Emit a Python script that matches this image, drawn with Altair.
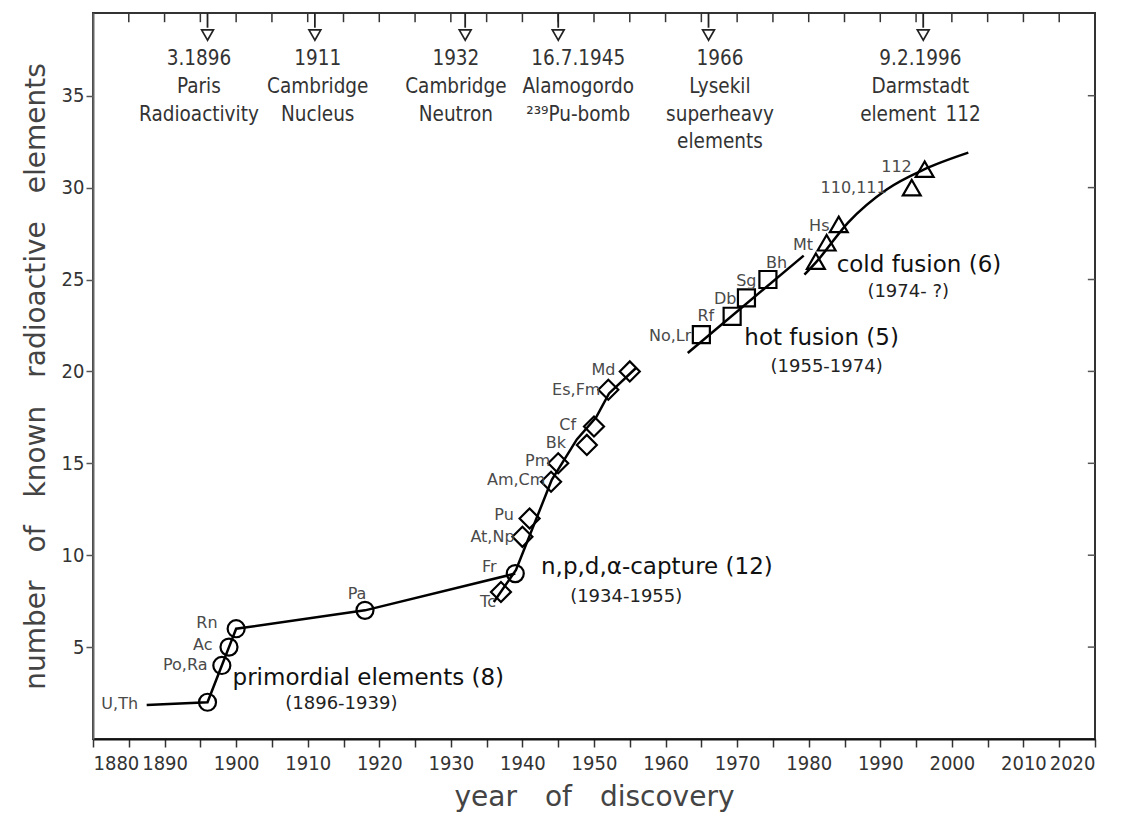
import altair as alt
import pandas as pd

# ---------------- data ----------------
# discovered elements (markers)
circ_year = [1896, 1898, 1899, 1900, 1918, 1939]
circ_n = [2, 4, 5, 6, 7, 9]
diam_year = [1937, 1940, 1941, 1944, 1945, 1949, 1950, 1952, 1955]
diam_n = [8, 11, 12, 14, 15, 16, 17, 19, 20]
sq_year = [1965, 1969.3, 1971.3, 1974.3]
sq_n = [22, 23, 24, 25]
tri_year = [1981, 1982.5, 1984.2, 1994.4, 1996.2]
tri_n = [26, 27, 28, 30, 31]

# trend curves
prim_year = [1887.5, 1896, 1898, 1899, 1900, 1918, 1939]
prim_n = [1.85, 2, 4, 5, 6, 7, 9]
capt_year = [1936.0, 1939.1, 1944.1, 1947.6, 1950.3, 1952.1, 1955.9]
capt_n = [7.45, 9.2, 14.1, 16.3, 17.5, 18.8, 20.2]
hot_year = [1963.1, 1979.3]
hot_n = [21.0, 26.3]
cold_year = [1979.4, 1981.1, 1985.5, 1990.9, 1996.2, 2002.3]
cold_n = [25.26, 25.97, 28.1, 29.9, 31.0, 31.9]

# element labels (right aligned)
lab_text = ["U,Th", "Po,Ra", "Ac", "Rn", "Pa", "Fr", "Tc", "At,Np", "Pu", "Am,Cm",
            "Pm", "Bk", "Cf", "Es,Fm", "Md", "No,Lr", "Rf", "Db", "Sg", "Bh",
            "Mt", "Hs", "110,111", "112"]
lab_year = [1886.3, 1896.0, 1896.7, 1897.4, 1918.2, 1936.4, 1936.3, 1938.9, 1938.8, 1943.2,
            1943.9, 1946.1, 1947.5, 1950.9, 1953.0, 1963.6, 1966.8, 1969.9, 1972.7, 1977.0,
            1980.6, 1982.9, 1990.9, 1994.4]
lab_n = [1.9, 4.0, 5.1, 6.3, 7.9, 9.35, 7.45, 11.0, 12.2, 14.1,
         15.1, 16.1, 17.1, 19.0, 20.1, 21.9, 23.0, 23.95, 24.9, 25.9,
         26.9, 27.9, 30.0, 31.1]

# group labels
grp_text = ["primordial elements (8)", "n,p,d,\u03b1-capture (12)", "hot fusion (5)", "cold fusion (6)"]
grp_year = [1899.5, 1942.6, 1971.0, 1983.9]
grp_n = [3.3, 9.35, 21.8, 25.8]
sub_text = ["(1896-1939)", "(1934-1955)", "(1955-1974)", "(1974-  ?)"]
sub_year = [1914.7, 1954.5, 1982.5, 1993.9]
sub_n = [1.9, 7.7, 20.25, 24.3]

# historical events at the top (arrow year, centre year of the text block)
ev_year = [1896, 1911, 1932, 1945, 1966, 1996]
ev_text_year = [1894.8, 1911.4, 1930.7, 1947.8, 1967.6, 1995.6]
ev_lines = [["3.1896", "Paris", "Radioactivity"],
            ["1911", "Cambridge", "Nucleus"],
            ["1932", "Cambridge", "Neutron"],
            ["16.7.1945", "Alamogordo", "\u00b2\u00b3\u2079Pu-bomb"],
            ["1966", "Lysekil", "superheavy", "elements"],
            ["9.2.1996", "Darmstadt", "element\u2002112"]]
line_n = [37.0, 35.47, 33.95, 32.48]

x_ticks = list(range(1880, 2021, 5))
y_ticks = [5, 10, 15, 20, 25, 30, 35]

# ---------------- chart ----------------
COND = "DejaVu Sans Condensed"
REG = "DejaVu Sans"
XD = [1880, 2020]
YD = [0, 39.5]
SP = "\u2003"

xs = alt.Scale(domain=XD, nice=False, zero=False)
ys = alt.Scale(domain=YD, nice=False, zero=False)

x_axis = alt.Axis(
    values=x_ticks, format="d",
    labelExpr="datum.value % 10 == 0 ? datum.label : ''",
    tickSize=8, tickWidth=1.5, tickColor="#333",
    labelFontSize=20, labelFont=COND, labelColor="#333", labelPadding=6,
    domainColor="#111", domainWidth=2, grid=False,
    title=SP.join(["year", "of", "discovery"]), titleFont=REG, titleFontSize=28,
    titleFontWeight="normal", titleColor="#444", titlePadding=10)
y_axis = alt.Axis(
    values=y_ticks, tickSize=7, tickWidth=1.5, tickColor="#555",
    labelFontSize=20, labelFont=COND, labelColor="#333", labelPadding=2,
    domainColor="#666", domainWidth=2, grid=False,
    title=SP.join(["number", "of", "known", "radioactive", "elements"]), titleFont=REG,
    titleFontSize=28, titleFontWeight="normal", titleColor="#444", titlePadding=11)


def X(field="year"):
    return alt.X(f"{field}:Q", scale=xs, axis=x_axis)


def Y(field="n"):
    return alt.Y(f"{field}:Q", scale=ys, axis=y_axis)


# inward ticks on top and right borders
top_df = pd.DataFrame({"year": x_ticks[1:-1], "n": [YD[1]] * (len(x_ticks) - 2),
                       "n2": [YD[1] - 0.5] * (len(x_ticks) - 2)})
top_ticks = alt.Chart(top_df).mark_rule(color="#333", strokeWidth=1.5).encode(
    x=X(), y=Y(), y2="n2:Q")
right_df = pd.DataFrame({"n": y_ticks, "year": [XD[1]] * len(y_ticks),
                         "year2": [XD[1] - 1.0] * len(y_ticks)})
right_ticks = alt.Chart(right_df).mark_rule(color="#555", strokeWidth=1.5).encode(
    y=Y(), x=X(), x2="year2:Q")


def curve(xv, yv, interp):
    df = pd.DataFrame({"year": xv, "n": yv, "o": list(range(len(xv)))})
    return alt.Chart(df).mark_line(color="black", strokeWidth=2.5, interpolate=interp).encode(
        x=X(), y=Y(), order="o:Q")


lines = [curve(prim_year, prim_n, "linear"),
         curve(capt_year, capt_n, "linear"),
         curve(hot_year, hot_n, "linear"),
         curve(cold_year, cold_n, "monotone")]


def markers(xv, yv, shape, size):
    df = pd.DataFrame({"year": xv, "n": yv})
    return alt.Chart(df).mark_point(shape=shape, size=size, filled=False, color="black",
                                    strokeWidth=2.2, opacity=1).encode(x=X(), y=Y())


pts = [markers(circ_year, circ_n, "circle", 290),
       markers(diam_year, diam_n, "diamond", 400),
       markers(sq_year, sq_n, "square", 290),
       markers(tri_year, tri_n, "triangle-up", 320)]

lab_df = pd.DataFrame({"year": lab_year, "n": lab_n, "t": lab_text})
labels = alt.Chart(lab_df).mark_text(align="right", baseline="middle", font=REG,
                                     fontSize=16, color="#4a4a4a").encode(
    x=X(), y=Y(), text="t:N")

grp_df = pd.DataFrame({"year": grp_year, "n": grp_n, "t": grp_text})
groups = alt.Chart(grp_df).mark_text(align="left", baseline="middle", font=REG,
                                     fontSize=23, color="#111").encode(
    x=X(), y=Y(), text="t:N")
sub_df = pd.DataFrame({"year": sub_year, "n": sub_n, "t": sub_text})
subs = alt.Chart(sub_df).mark_text(align="center", baseline="middle", font=REG,
                                   fontSize=18, color="#222").encode(
    x=X(), y=Y(), text="t:N")

# event arrows
stem_df = pd.DataFrame({"year": ev_year, "n": [YD[1]] * len(ev_year),
                        "n2": [38.7] * len(ev_year)})
stems = alt.Chart(stem_df).mark_rule(color="#222", strokeWidth=1.8).encode(
    x=X(), y=Y(), y2="n2:Q")
head_df = pd.DataFrame({"year": ev_year, "n": [38.3] * len(ev_year)})
heads = alt.Chart(head_df).mark_point(shape="triangle-down", size=140, filled=True,
                                      fill="white", stroke="#222", strokeWidth=1.7,
                                      opacity=1).encode(x=X(), y=Y())
ev_rows = []
for yr, lns in zip(ev_text_year, ev_lines):
    for i, t in enumerate(lns):
        ev_rows.append({"year": yr, "n": line_n[i], "t": t})
ev_df = pd.DataFrame(ev_rows)
events = alt.Chart(ev_df).mark_text(align="center", baseline="middle", font=COND,
                                    fontSize=20.5, color="#333").encode(
    x=X(), y=Y(), text="t:N")

chart = alt.layer(top_ticks, right_ticks, *lines, *pts, labels, groups, subs,
                  stems, heads, events).properties(
    width=1002, height=726,
    autosize=alt.AutoSizeParams(type="none"),
    padding={"left": 93, "top": 13, "right": 28, "bottom": 81},
    background="white",
).configure_view(stroke="#333", strokeWidth=2)

chart.save("out.html", embed_options={"renderer": "svg", "actions": False})
